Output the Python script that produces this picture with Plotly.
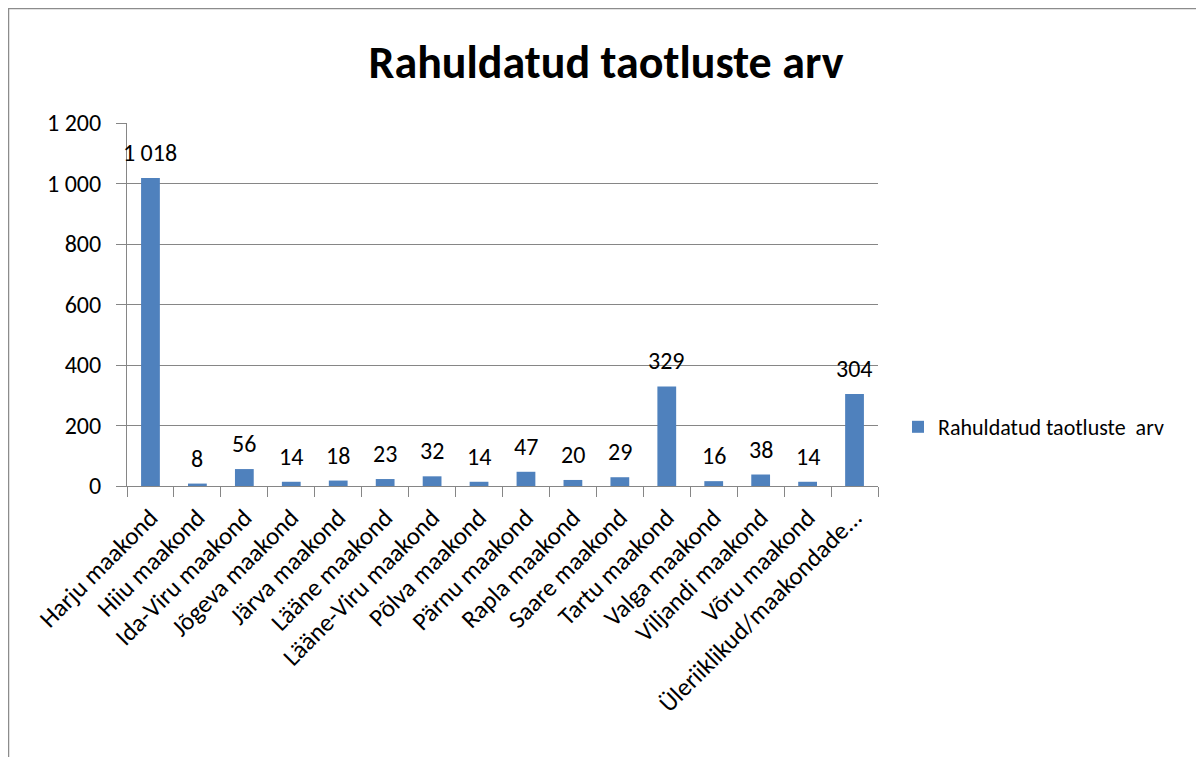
import plotly.graph_objects as go

categories = ["Harju maakond", "Hiiu maakond", "Ida-Viru maakond", "Jõgeva maakond",
              "Järva maakond", "Lääne maakond", "Lääne-Viru maakond", "Põlva maakond",
              "Pärnu maakond", "Rapla maakond", "Saare maakond", "Tartu maakond",
              "Valga maakond", "Viljandi maakond", "Võru maakond", "Üleriiklikud/maakondade..."]
values = [1018, 8, 56, 14, 18, 23, 32, 14, 47, 20, 29, 329, 16, 38, 14, 304]
series_name = "Rahuldatud taotluste  arv"
title_text = "Rahuldatud taotluste arv"
y_ticks = [0, 200, 400, 600, 800, 1000, 1200]

FONT = "Calibri, Carlito, Lato, sans-serif"

fig = go.Figure()
fig.add_trace(go.Bar(
    x=categories, y=values, name=series_name,
    marker=dict(color="#4F81BD", line=dict(width=0)),
    cliponaxis=False,
))

# data labels, positioned from the data values
for c, v in zip(categories, values):
    fig.add_annotation(x=c, y=v, xref="x", yref="y", text=f"{v:,d}".replace(",", " "),
                       showarrow=False, yanchor="bottom", yshift=9,
                       font=dict(size=24, family=FONT, color="#000000"))

OFF = 8  # page body offset
W, H = 1204, 757
L, R, T, B = 127 - OFF, 878 - OFF, 123 - OFF, 486 - OFF
pw, ph = R - L, B - T

def px(x):
    return (x - OFF - L) / pw

def py(y):
    return (B - (y - OFF)) / ph

fig.update_layout(
    width=W, height=H,
    margin=dict(l=L, r=W - R, t=T, b=H - B, autoexpand=False),
    paper_bgcolor="white", plot_bgcolor="white",
    separators=", ",
    font=dict(family=FONT, color="#000000"),
    title=dict(text=title_text, x=(606 - OFF) / W, xref="container", xanchor="center",
               y=1 - (62 - OFF) / H, yanchor="middle",
               font=dict(size=46, family=FONT, color="#000000", weight="bold")),
    bargap=0.6,
    showlegend=True,
    legend=dict(x=px(898), y=py(427), xanchor="left", yanchor="middle",
                font=dict(size=22, family=FONT, color="#000000"),
                itemwidth=30, bgcolor="rgba(0,0,0,0)"),
    xaxis=dict(type="category", tickson="boundaries", ticks="outside", ticklen=10,
               tickcolor="#868686", showline=True, linecolor="#868686", linewidth=1,
               tickangle=-45, ticklabelstandoff=6,
               tickfont=dict(size=25, family=FONT, color="#000000"),
               showgrid=False, range=[-0.5, len(categories) - 0.5]),
    yaxis=dict(range=[0, 1200], tickvals=y_ticks, tickformat=",d", ticks="outside",
               ticklen=10, tickcolor="#868686", showline=True, linecolor="#868686",
               linewidth=1, showgrid=True, gridcolor="#868686", gridwidth=1,
               ticklabelstandoff=10,
               tickfont=dict(size=24, family=FONT, color="#000000"), zeroline=False),
    shapes=[dict(type="rect", xref="paper", yref="paper",
                 x0=px(8.5), x1=px(1197.5), y0=py(790), y1=py(8.5),
                 line=dict(color="#8C8C8C", width=1.5), fillcolor="rgba(0,0,0,0)",
                 layer="below")],
)

fig.write_html("out.html")
